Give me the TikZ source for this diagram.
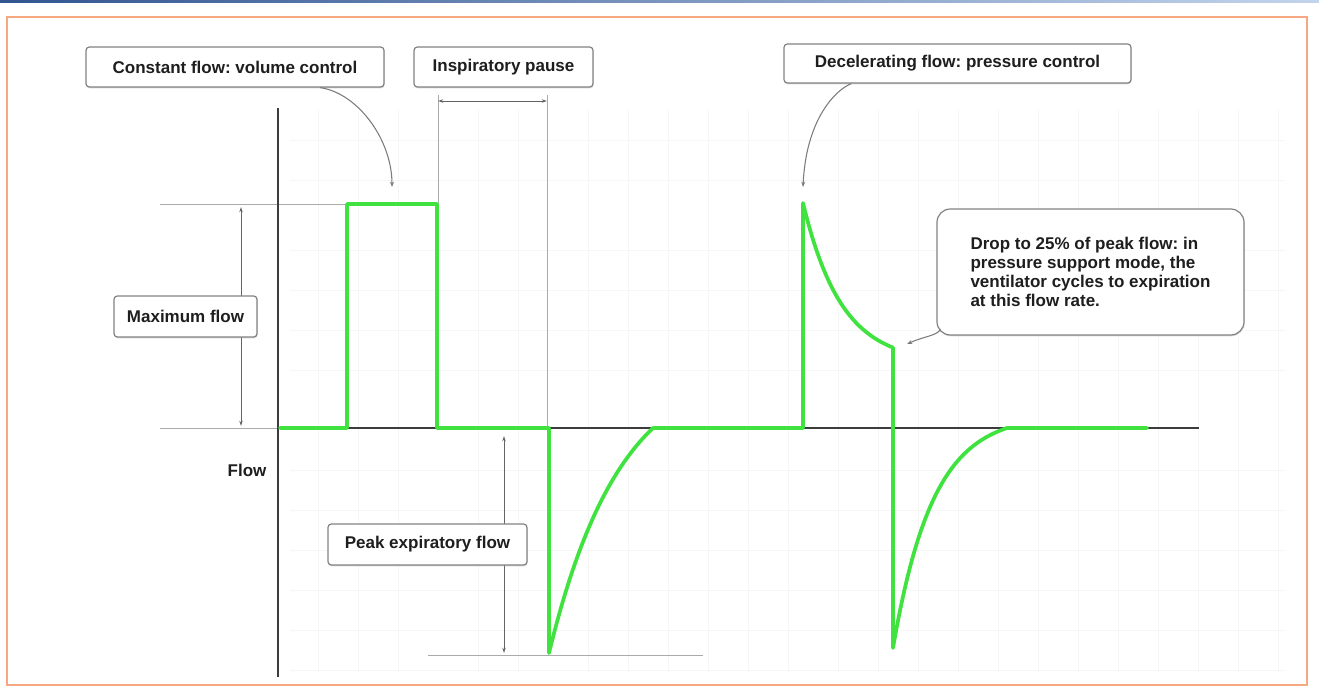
\documentclass[tikz,border=0pt]{standalone}
\usepackage{fontspec}
\setmainfont{Liberation Sans}
\usetikzlibrary{arrows.meta,shadows,calc}
\definecolor{wave}{RGB}{64,226,64}
\definecolor{frameor}{RGB}{246,168,130}
\definecolor{boxline}{RGB}{130,130,130}
\definecolor{thingrey}{RGB}{170,170,170}
\definecolor{dimgrey}{RGB}{100,100,100}
\definecolor{axiscol}{RGB}{60,60,60}
\definecolor{barL}{RGB}{50,85,145}
\definecolor{barR}{RGB}{195,212,236}
\definecolor{txt}{RGB}{30,30,30}
\frenchspacing
\begin{document}
\frenchspacing
\begin{tikzpicture}[x=0.75pt,y=-0.75pt,
  lbl/.style={draw=boxline, line width=0.9pt, rounded corners=2.5pt, fill=white,
    font=\frenchspacing\bfseries\fontsize{12.75}{14.25}\selectfont, text=txt, inner sep=0pt,
    drop shadow={shadow xshift=0.4pt, shadow yshift=-1pt, opacity=0.3}},
  thinl/.style={draw=thingrey, line width=0.7pt},
  dimline/.style={draw=dimgrey, line width=0.7pt, {Stealth[length=4pt,width=2.6pt]}-{Stealth[length=4pt,width=2.6pt]}},
  callout/.style={draw=dimgrey!85, line width=0.8pt, -{Stealth[length=4pt,width=3pt]}},
  axisline/.style={draw=axiscol, line width=1.9pt},
  waveline/.style={draw=wave, line width=2.8pt, line join=round, line cap=round},
  gridl/.style={draw=black!3.5, line width=0.6pt}]
\useasboundingbox (0,0) rectangle (1319,688);
% top bar and frame
\shade[left color=barL, right color=barR] (0,0) rectangle (1319,3);
\draw[frameor, line width=1.5pt] (7,17) rectangle (1307,685);
% faint graph paper
\foreach \gx in {318,358,398,478,518,588,628,668,708,748,788,838,878,918,958,998,1038,1078,1118,1158,1198,1238,1278}
  \draw[gridl] (\gx,110) -- (\gx,672);
\foreach \gy in {140,180,250,290,330,370,470,510,550,590,630,670}
  \draw[gridl] (290,\gy) -- (1285,\gy);
% thin reference lines
\draw[thinl] (160,204) -- (347,204);
\draw[thinl] (160,428) -- (278,428);
\draw[thinl] (438,95) -- (438,204);
\draw[thinl] (547,95) -- (547,428);
\draw[thinl] (428,655) -- (703,655);
% axes
\draw[axisline] (278,108) -- (278,677);
\draw[axisline] (278,428) -- (1199,428);
% waveform
\draw[waveline] (280,428) -- (347,428) -- (347,204) -- (437,204) -- (437,428) -- (549,428) -- (549,653)
  -- plot[domain=0:104, samples=60] ({549+\x},{428+225*(exp(-0.014*\x)-0.2332)/(1-0.2332)});
\draw[waveline] (653,428) -- (803,428) -- (803,203)
  -- plot[domain=0:90, samples=60] ({803+\x},{428-(65+160*exp(-0.026*\x))})
  -- (893,648)
  -- plot[domain=0:114, samples=60] ({893+\x},{428+220*(exp(-0.025*\x)-0.0578)/(1-0.0578)})
  -- (1147,428);
% dimension arrows
\coordinate (mfT) at (241,207);
\coordinate (mfB) at (241,426);
\coordinate (ipL) at (438,101);
\coordinate (ipR) at (547,101);
\coordinate (peT) at (504,436);
\coordinate (peB) at (504,653);
\draw[dimline] (mfT) -- (mfB);
\draw[dimline] (ipL) -- (ipR);
\draw[dimline] (peT) -- (peB);
% labels
\node[lbl, minimum width=298*0.75pt, minimum height=40*0.75pt] (cf) at (235,67) {Constant flow: volume control};
\node[lbl, minimum width=179*0.75pt, minimum height=40*0.75pt] (ip) at (503.5,67) {Inspiratory pause};
\node[lbl, minimum width=347*0.75pt, minimum height=39*0.75pt] (df) at (957.5,63.5) {Decelerating flow: pressure control};
\node[lbl, minimum width=143*0.75pt, minimum height=41*0.75pt] (mf) at (185.5,316.5) {Maximum flow};
\node[lbl, minimum width=199*0.75pt, minimum height=41*0.75pt] (pe) at (427.5,544.5) {Peak expiratory flow};
\node[lbl, rounded corners=10pt, align=left, minimum width=307*0.75pt, minimum height=126*0.75pt] (drop) at (1090.5,272)
  {Drop to 25\% of peak flow: in\\pressure support mode, the\\ventilator cycles to expiration\\at this flow rate.};
\node[font=\bfseries\fontsize{12.75}{14.25}\selectfont, text=txt] (flowlbl) at (247,470) {Flow};
% callout curves
\coordinate (cfTip) at (392,187);
\coordinate (dfTip) at (803,187);
\coordinate (dropTip) at (907,344);
\draw[callout] ($(cf.south)+(85,0)$) .. controls (358,93) and (392,140) .. (cfTip);
\draw[callout] ($(df.south west)+(68,0)$) .. controls (835,90) and (806,120) .. (dfTip);
\draw[callout] ($(drop.south west)+(4,-6)$) .. controls (936,336) and (925,336) .. (dropTip);
\end{tikzpicture}
\end{document}
